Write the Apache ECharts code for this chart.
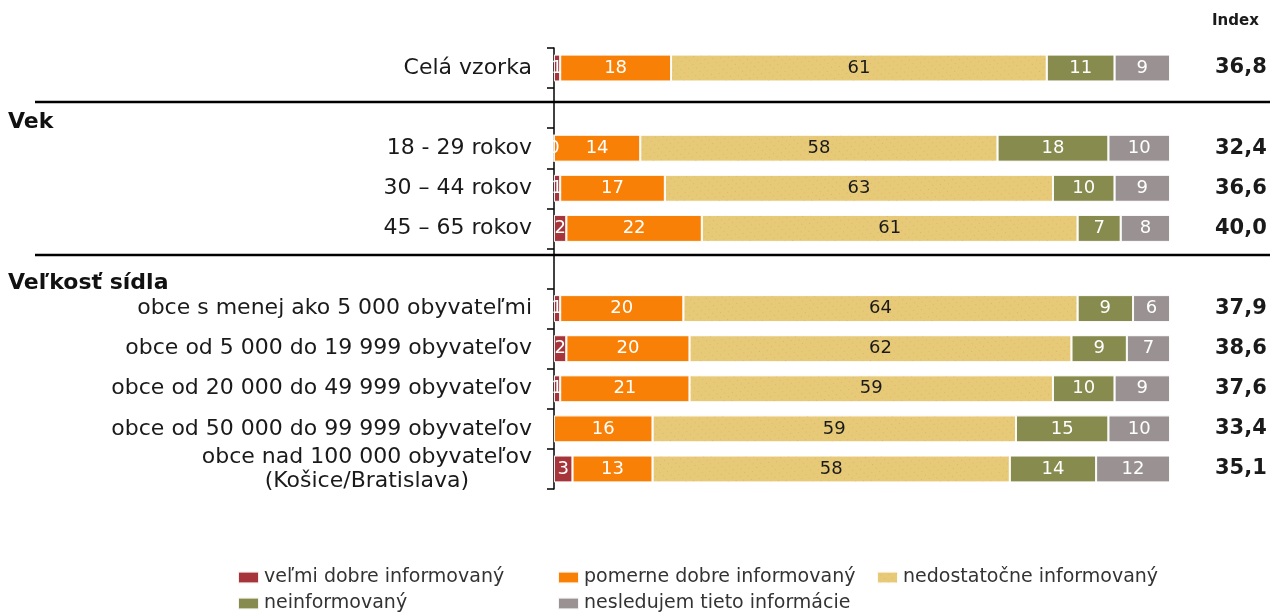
<!DOCTYPE html>
<html>
<head>
<meta charset="utf-8">
<script src="https://cdn.jsdelivr.net/npm/echarts@6/dist/echarts.min.js"></script>
<style>
html, body { margin: 0; padding: 0; background: #fff; }
#chart { width: 1276px; height: 613px; }
</style>
</head>
<body>
<div id="chart"></div>
<script>
// kategórie (prázdne riadky = oddelovače skupín)
var categories = ['Celá vzorka', '', '18 - 29 rokov', '30 – 44 rokov', '45 – 65 rokov', '',
    'obce s menej ako 5 000 obyvateľmi', 'obce od 5 000 do 19 999 obyvateľov',
    'obce od 20 000 do 49 999 obyvateľov', 'obce od 50 000 do 99 999 obyvateľov',
    'obce nad 100 000 obyvateľov\n(Košice/Bratislava)'];
var velmiDobre = [1, '-', 0, 1, 2, '-', 1, 2, 1, '-', 3];
var pomerneDobre = [18, '-', 14, 17, 22, '-', 20, 20, 21, 16, 13];
var nedostatocne = [61, '-', 58, 63, 61, '-', 64, 62, 59, 59, 58];
var neinformovany = [11, '-', 18, 10, 7, '-', 9, 9, 10, 15, 14];
var nesledujem = [9, '-', 10, 9, 8, '-', 6, 7, 9, 10, 12];
var indexValues = ['36,8', '', '32,4', '36,6', '40,0', '', '37,9', '38,6', '37,6', '33,4', '35,1'];
var seriesNames = ['veľmi dobre informovaný', 'pomerne dobre informovaný', 'nedostatočne informovaný',
    'neinformovaný', 'nesledujem tieto informácie'];

var font = 'DejaVu Sans, Verdana, sans-serif';
var colors = ['#a5353a', '#f88006', '#e7ca78', '#878b4e', '#9a9292'];
var noDecal = { symbol: 'none' };

var chart = echarts.init(document.getElementById('chart'));

function bar(name, data, color, labelColor, decal) {
    return {
        name: name,
        type: 'bar',
        stack: 'all',
        data: data,
        barWidth: 27,
        itemStyle: { color: color, borderColor: 'rgba(255,255,255,0.7)', borderWidth: 1, decal: decal || noDecal },
        label: {
            show: true,
            position: 'inside',
            color: labelColor,
            fontFamily: font,
            fontSize: 18
        }
    };
}

// legenda ako mriežka 3 stĺpcov
function legend(name, left, top) {
    return {
        data: [name],
        left: left,
        top: top,
        padding: 0,
        icon: 'rect',
        itemWidth: 21,
        itemHeight: 12,
        itemGap: 5,
        textStyle: { fontFamily: font, fontSize: 19, color: '#333' }
    };
}

var option = {
    animation: false,
    aria: { enabled: true, decal: { show: true } },
    color: colors,
    grid: { left: 554, right: 106, top: 48, bottom: 124 },
    xAxis: { type: 'value', min: 0, max: 100, show: false },
    yAxis: [{
        type: 'category',
        data: categories,
        inverse: true,
        axisLine: { show: true, lineStyle: { color: '#000', width: 1.5 } },
        axisTick: { show: true, inside: false, length: 7, lineStyle: { color: '#000', width: 1.5 } },
        axisLabel: {
            margin: 22,
            formatter: function (v) {
                return v.split('\n').map(function (s) { return '{c|' + s + '}'; }).join('\n');
            },
            rich: {
                c: { fontFamily: font, fontSize: 22, color: '#1a1a1a', align: 'center', lineHeight: 24 }
            }
        }
    }, {
        type: 'category',
        data: indexValues,
        inverse: true,
        position: 'right',
        axisLine: { show: false },
        axisTick: { show: false },
        axisLabel: { margin: 45, fontFamily: font, fontSize: 21, fontWeight: 'bold', color: '#1a1a1a' }
    }],
    legend: [
        legend(seriesNames[0], 237, 568),
        legend(seriesNames[1], 557, 568),
        legend(seriesNames[2], 876, 568),
        legend(seriesNames[3], 237, 594),
        legend(seriesNames[4], 557, 594)
    ],
    series: [
        bar(seriesNames[0], velmiDobre, colors[0], '#fff'),
        bar(seriesNames[1], pomerneDobre, colors[1], '#fff'),
        bar(seriesNames[2], nedostatocne, colors[2], '#1a1a1a', {
            symbol: 'rect', symbolSize: 1, color: 'rgba(214,120,110,0.3)',
            dashArrayX: [1, 5], dashArrayY: [1, 4]
        }),
        bar(seriesNames[3], neinformovany, colors[3], '#fff'),
        bar(seriesNames[4], nesledujem, colors[4], '#fff')
    ],
    graphic: [
        { type: 'text', left: 1212, top: 14, style: { text: 'Index', font: 'bold 15px ' + font, fill: '#1a1a1a' } },
        { type: 'line', shape: { x1: 35, y1: 102, x2: 1270, y2: 102 }, style: { stroke: '#000', lineWidth: 2.5 } },
        { type: 'line', shape: { x1: 35, y1: 255, x2: 1270, y2: 255 }, style: { stroke: '#000', lineWidth: 2.5 } },
        { type: 'text', left: 8, top: 111, style: { text: 'Vek', font: 'bold 22px ' + font, fill: '#111' } },
        { type: 'text', left: 8, top: 272, style: { text: 'Veľkosť sídla', font: 'bold 22px ' + font, fill: '#111' } }
    ]
};

chart.setOption(option);
</script>
</body>
</html>
